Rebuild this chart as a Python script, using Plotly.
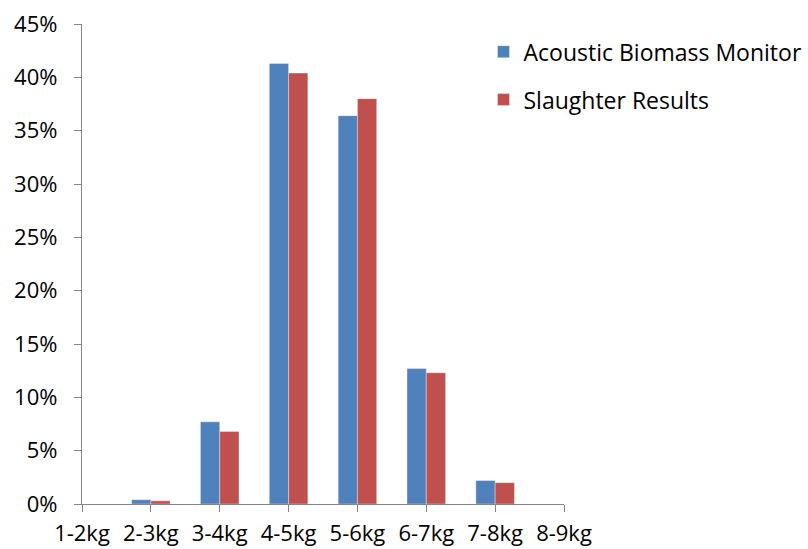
import plotly.graph_objects as go

categories = ["1-2kg", "2-3kg", "3-4kg", "4-5kg", "5-6kg", "6-7kg", "7-8kg", "8-9kg"]
acoustic = [0, 0.4, 7.7, 41.3, 36.4, 12.7, 2.2, 0]
slaughter = [0, 0.3, 6.8, 40.4, 38.0, 12.3, 2.0, 0]
y_ticks = [0, 5, 10, 15, 20, 25, 30, 35, 40, 45]
y_tick_labels = ["0%", "5%", "10%", "15%", "20%", "25%", "30%", "35%", "40%", "45%"]

FONT = "Open Sans"
AXIS_COLOR = "#868686"

fig = go.Figure()
fig.add_trace(go.Bar(
    x=categories, y=acoustic, name="Acoustic Biomass Monitor",
    marker=dict(color="#4F81BD", line=dict(color="rgba(255,255,255,0.35)", width=1)),
    legendgroup="a",
))
fig.add_trace(go.Bar(
    x=categories, y=slaughter, name="Slaughter Results",
    marker=dict(color="#C0504D", line=dict(color="rgba(255,255,255,0.35)", width=1)),
    legendgroup="b",
))

fig.update_layout(
    width=808, height=549,
    margin=dict(l=82, r=244, t=24, b=45, autoexpand=False),
    paper_bgcolor="white", plot_bgcolor="white",
    barmode="group", bargap=0.44, bargroupgap=0,
    font=dict(family=FONT, size=23, color="#000000"),
    legend=dict(
        x=0.833, y=0.987, xanchor="left", yanchor="top",
        font=dict(family=FONT, size=23, color="#000000"),
        tracegroupgap=15, bgcolor="rgba(0,0,0,0)",
    ),
    xaxis=dict(
        type="category", range=[0, 7], automargin=False,
        showline=True, linecolor=AXIS_COLOR, linewidth=1.3,
        ticks="outside", ticklen=7, tickcolor=AXIS_COLOR, tickwidth=1.3,
        showgrid=False, zeroline=False,
        tickfont=dict(family=FONT, size=22, color="#000000"),
        ticklabelstandoff=2,
    ),
    yaxis=dict(
        range=[0, 45], tickmode="array", tickvals=y_ticks, ticktext=y_tick_labels,
        automargin=False,
        showline=True, linecolor=AXIS_COLOR, linewidth=1.3,
        ticks="outside", ticklen=7, tickcolor=AXIS_COLOR, tickwidth=1.3,
        showgrid=False, zeroline=False,
        tickfont=dict(family=FONT, size=22, color="#000000"),
        ticklabelstandoff=12,
    ),
)

fig.write_html("out.html")
